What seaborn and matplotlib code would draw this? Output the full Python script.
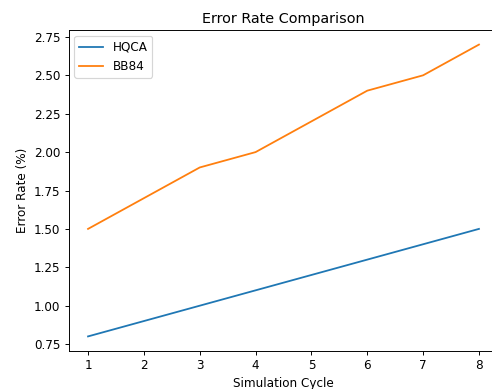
import matplotlib
matplotlib.use("Agg")
import matplotlib.pyplot as plt
import seaborn as sns
import pandas as pd

cycles = [1, 2, 3, 4, 5, 6, 7, 8]
hqca = [0.8, 0.9, 1.0, 1.1, 1.2, 1.3, 1.4, 1.5]
bb84 = [1.5, 1.7, 1.9, 2.0, 2.2, 2.4, 2.5, 2.7]

df = pd.DataFrame({
    "Simulation Cycle": cycles * 2,
    "Error Rate (%)": hqca + bb84,
    "Protocol": ["HQCA"] * len(cycles) + ["BB84"] * len(cycles),
})

dpi = 86
fig = plt.figure(figsize=(492 / dpi, 389 / dpi), dpi=dpi)
# axes run slightly past the right edge, as in the reference crop
ax = fig.add_axes([68.5 / 492, 38 / 389, 430 / 492, 321 / 389])
sns.lineplot(data=df, x="Simulation Cycle", y="Error Rate (%)", hue="Protocol",
             palette=["#1f77b4", "#ff7f0e"], ax=ax)
ax.set_title("Error Rate Comparison")
ax.legend(loc="upper left")
fig.savefig("out.png", dpi=dpi)
plt.close()
